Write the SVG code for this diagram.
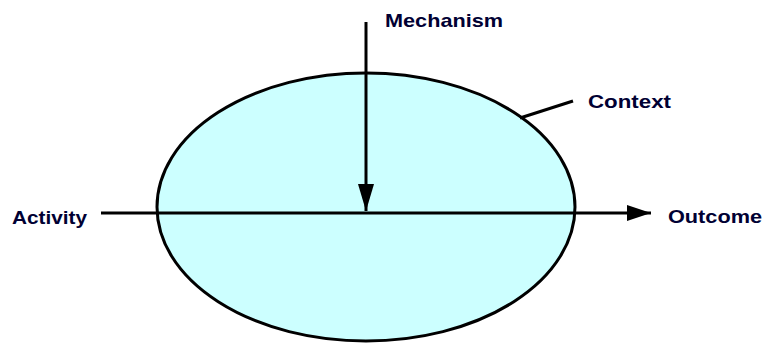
<svg xmlns="http://www.w3.org/2000/svg" width="767" height="344" viewBox="0 0 767 344">
<style>
.lbl{font-family:"Liberation Sans",Arial,sans-serif;font-weight:bold;font-size:19px;fill:#000033}
.ln{stroke:#000;stroke-width:3;fill:none}
</style>
<defs>
<marker id="ahb" viewBox="0 0 24 16" refX="24" refY="8" markerWidth="24" markerHeight="16" orient="auto" markerUnits="userSpaceOnUse">
<path d="M0,0 L24,8 L0,16 Z" fill="#000"/>
</marker>
<marker id="ahv" viewBox="0 0 27 16" refX="27" refY="8" markerWidth="27" markerHeight="16" orient="auto" markerUnits="userSpaceOnUse">
<path d="M0,0 L27,8 L0,16 Z" fill="#000"/>
</marker>
</defs>
<rect width="767" height="344" fill="#fff"/>
<g id="context">
<ellipse cx="366" cy="207" rx="209" ry="134" fill="#CCFFFF" stroke="#000" stroke-width="3"/>
</g>
<g id="connectors">
<line class="ln" x1="520" y1="118" x2="573" y2="101"/>
<line class="ln" x1="101" y1="213" x2="651" y2="213" marker-end="url(#ahb)"/>
<line class="ln" x1="366" y1="22" x2="366" y2="211" marker-end="url(#ahv)"/>
</g>
<g id="mechanism"><text class="lbl" x="385" y="27" textLength="118" lengthAdjust="spacingAndGlyphs">Mechanism</text></g>
<g id="context-label"><text class="lbl" x="588" y="108" textLength="83" lengthAdjust="spacingAndGlyphs">Context</text></g>
<g id="activity"><text class="lbl" x="12" y="224" textLength="75" lengthAdjust="spacingAndGlyphs">Activity</text></g>
<g id="outcome"><text class="lbl" x="668" y="223" textLength="94" lengthAdjust="spacingAndGlyphs">Outcome</text></g>
</svg>
